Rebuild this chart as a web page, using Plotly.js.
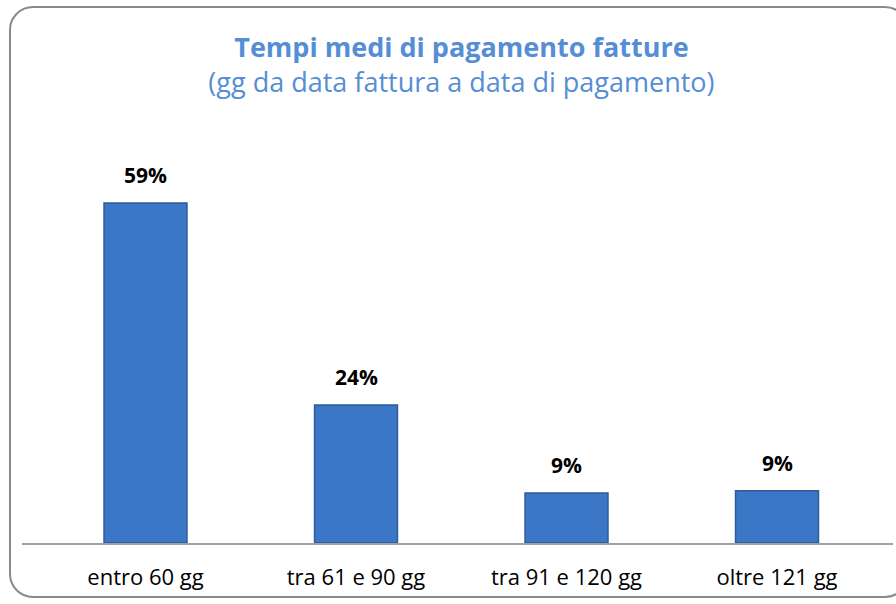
<!DOCTYPE html>
<html><head><meta charset="utf-8">
<script src="https://cdn.plot.ly/plotly-3.0.1.min.js"></script>
<style>
html,body{margin:0;padding:0;background:#fff;}
#wrap{position:relative;width:896px;height:604px;overflow:hidden;}
#chart{width:896px;height:604px;}
#frame{position:absolute;left:9px;top:6px;width:900px;height:592px;border:2px solid #8a8a8a;border-radius:24px;pointer-events:none;box-sizing:border-box;}
</style></head>
<body><div id="wrap"><div id="chart"></div><div id="frame"></div></div>
<script>
const categories = ["entro 60 gg", "tra 61 e 90 gg", "tra 91 e 120 gg", "oltre 121 gg"];
const values = [58.6, 23.8, 8.6, 9.0];
const valueLabels = ["59%", "24%", "9%", "9%"];

const trace = {
  type: "bar",
  x: categories,
  y: values,
  width: 0.394,
  marker: {color: "#3b77c6", line: {color: "#2c5c99", width: 1.5}},
  hoverinfo: "skip"
};

const annotations = categories.map((c, i) => ({
  x: c, y: values[i], xref: "x", yref: "y",
  text: "<b>" + valueLabels[i] + "</b>",
  showarrow: false, yanchor: "bottom", yshift: 12,
  font: {family: "Open Sans, sans-serif", size: 21, color: "#000"}
}));

const layout = {
  width: 896, height: 604,
  margin: {l: 22, r: 3, t: 137, b: 61},
  paper_bgcolor: "#fff", plot_bgcolor: "#fff",
  showlegend: false,
  annotations: annotations,
  title: {
    text: "<b>Tempi medi di pagamento fatture</b><br>(gg da data fattura a data di pagamento)",
    x: 0.515, xanchor: "center", y: 0.905, yanchor: "middle",
    font: {family: "Open Sans, sans-serif", size: 27, color: "#558ed5"}
  },
  xaxis: {
    type: "category",
    range: [-0.5867, 3.551],
    showline: true, linecolor: "#a0a0a0", linewidth: 1.5,
    ticks: "", showgrid: false,
    tickfont: {family: "Open Sans, sans-serif", size: 22, color: "#000"},
    ticklabelstandoff: 14
  },
  yaxis: {
    range: [0, 70], visible: false, showgrid: false, zeroline: false
  }
};

Plotly.newPlot("chart", [trace], layout, {displayModeBar: false, staticPlot: true});
</script></body></html>
